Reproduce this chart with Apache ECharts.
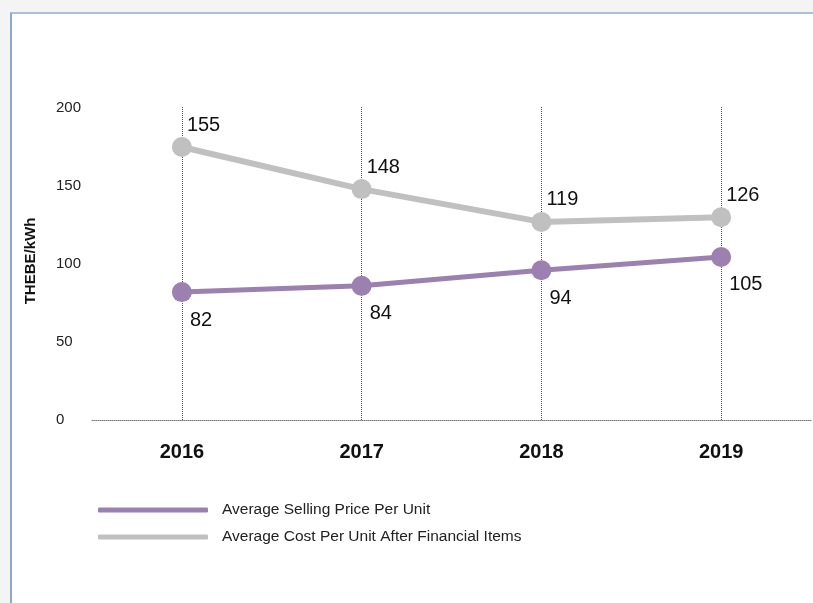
<!DOCTYPE html>
<html>
<head>
<meta charset="utf-8">
<script src="https://cdn.jsdelivr.net/npm/echarts@6/dist/echarts.min.js"></script>
<style>
  html, body { margin: 0; padding: 0; width: 813px; height: 603px; background: #f4f4f4; overflow: hidden; }
  #panel { position: absolute; left: 10px; top: 12px; width: 803px; height: 591px; background: #fff;
           border-left: 2px solid #8aaccb; border-top: 2px solid #a9c2da; box-sizing: border-box; }
  #chart { position: absolute; left: 0; top: 0; width: 813px; height: 603px; }
</style>
</head>
<body>
<div id="panel"></div>
<div id="chart"></div>
<script>
const categories = ['2016', '2017', '2018', '2019'];
const sellingPrice = [82, 86, 96, 104.5];
const sellingPriceLabels = ['82', '84', '94', '105'];
const costPerUnit = [175, 148, 127, 130];
const costPerUnitLabels = ['155', '148', '119', '126'];
const yTicks = [0, 50, 100, 150, 200];
const seriesNames = ['Average Selling Price Per Unit', 'Average Cost Per Unit After Financial Items'];

const PURPLE = '#9b80b0';
const GRAY = '#c0c0c0';
const FONT = 'Liberation Sans, Arial, Helvetica, sans-serif';

const chart = echarts.init(document.getElementById('chart'));
chart.setOption({
  backgroundColor: 'transparent',
  animation: false,
  textStyle: { fontFamily: FONT },
  grid: { left: 92, right: 2, top: 108, bottom: 183 },
  legend: {
    orient: 'vertical',
    left: 93,
    top: 497,
    itemWidth: 110,
    itemHeight: 5,
    itemGap: 11,
    icon: 'roundRect',
    data: seriesNames,
    textStyle: { fontSize: 15.5, color: '#222', fontFamily: FONT, padding: [0, 0, 0, 9] }
  },
  xAxis: {
    type: 'category',
    data: categories,
    boundaryGap: true,
    axisLine: { show: true, lineStyle: { color: '#777', width: 1, type: 'dotted' } },
    axisTick: { show: true, alignWithLabel: true, inside: true, length: 314,
                lineStyle: { color: '#555', width: 1, type: 'dotted' } },
    axisLabel: { fontSize: 20, fontWeight: 'bold', color: '#111', margin: 22, fontFamily: FONT },
    splitLine: { show: false }
  },
  yAxis: {
    type: 'value',
    min: yTicks[0],
    max: yTicks[yTicks.length - 1],
    interval: yTicks[1] - yTicks[0],
    name: 'THEBE/kWh',
    nameLocation: 'middle',
    nameRotate: 90,
    nameGap: 54,
    nameTextStyle: { fontSize: 15, fontWeight: 'bold', color: '#111', fontFamily: FONT, padding: [0, 0, 0, 6] },
    axisLine: { show: false },
    axisTick: { show: false },
    splitLine: { show: false },
    axisLabel: { fontSize: 15, color: '#222', align: 'left', margin: 36, fontFamily: FONT }
  },
  series: [
    {
      name: seriesNames[0],
      type: 'line',
      data: sellingPrice,
      symbol: 'circle',
      symbolSize: 20,
      z: 3,
      lineStyle: { color: PURPLE, width: 5 },
      itemStyle: { color: PURPLE },
      label: {
        show: true,
        position: 'bottom',
        align: 'left',
        distance: 5,
        offset: [8, 3],
        fontSize: 20,
        color: '#111',
        fontFamily: FONT,
        formatter: p => sellingPriceLabels[p.dataIndex]
      }
    },
    {
      name: seriesNames[1],
      type: 'line',
      data: costPerUnit,
      symbol: 'circle',
      symbolSize: 20,
      z: 3,
      lineStyle: { color: GRAY, width: 6 },
      itemStyle: { color: GRAY },
      label: {
        show: true,
        position: 'top',
        align: 'left',
        distance: 5,
        offset: [5, 3],
        fontSize: 20,
        color: '#111',
        fontFamily: FONT,
        formatter: p => costPerUnitLabels[p.dataIndex]
      }
    }
  ]
});
</script>
</body>
</html>
